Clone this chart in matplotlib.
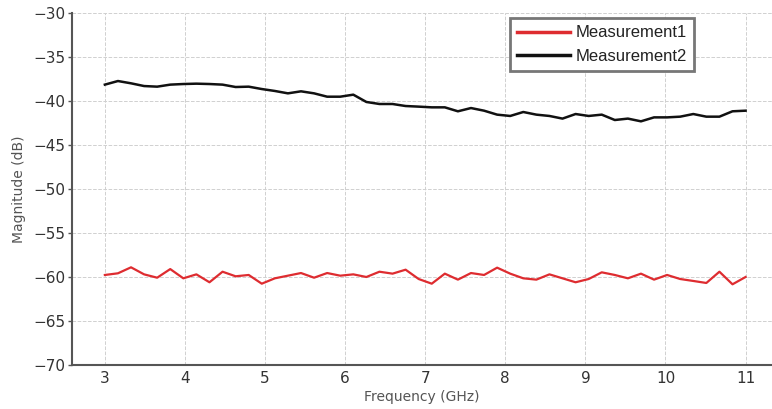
import numpy as np
import matplotlib
matplotlib.use("Agg")
import matplotlib.pyplot as plt

# Frequency sweep, 50 points from 3 to 11 GHz
freq_ghz = np.linspace(3, 11, 50)

measurement1_db = [
    -59.77, -59.58, -58.90, -59.70, -60.08, -59.10, -60.15, -59.70, -60.60, -59.40,
    -59.92, -59.77, -60.76, -60.15, -59.85, -59.55, -60.08, -59.55, -59.85, -59.70,
    -60.00, -59.40, -59.62, -59.17, -60.23, -60.76, -59.62, -60.30, -59.55, -59.77,
    -58.94, -59.62, -60.15, -60.30, -59.70, -60.15, -60.60, -60.23, -59.47, -59.77,
    -60.15, -59.62, -60.30, -59.77, -60.23, -60.45, -60.68, -59.40, -60.83, -60.00,
]

measurement2_db = [
    -38.14, -37.73, -37.99, -38.30, -38.37, -38.14, -38.07, -38.03, -38.07, -38.14,
    -38.41, -38.37, -38.64, -38.86, -39.13, -38.90, -39.13, -39.51, -39.51, -39.28,
    -40.11, -40.34, -40.34, -40.57, -40.64, -40.72, -40.72, -41.17, -40.80, -41.10,
    -41.55, -41.70, -41.25, -41.55, -41.70, -42.00, -41.48, -41.70, -41.55, -42.16,
    -42.00, -42.31, -41.86, -41.86, -41.78, -41.48, -41.78, -41.78, -41.17, -41.10,
]

x_ticks = [3, 4, 5, 6, 7, 8, 9, 10, 11]
y_ticks = [-30, -35, -40, -45, -50, -55, -60, -65, -70]

fig = plt.figure(figsize=(7.72, 4.09), dpi=100)
ax = fig.add_axes([0.0933, 0.1076, 0.9067, 0.8606])

ax.plot(freq_ghz, measurement1_db, color="#de2c30", linewidth=1.6, label="Measurement1")
ax.plot(freq_ghz, measurement2_db, color="#111111", linewidth=1.8, label="Measurement2")

ax.set_xlim(2.59, 11.33)
ax.set_ylim(-70, -30)
ax.set_xticks(x_ticks)
ax.set_yticks(y_ticks)

ax.grid(True, linestyle="--", color="#d0d0d0", linewidth=0.7)
ax.set_axisbelow(True)

for side in ("top", "right"):
    ax.spines[side].set_visible(False)
for side in ("left", "bottom"):
    ax.spines[side].set_color("#555555")
    ax.spines[side].set_linewidth(1.5)

ax.tick_params(axis="y", direction="out", length=3, width=1, color="#555555",
               labelsize=11, labelcolor="#333333", pad=2)
ax.tick_params(axis="x", length=0, labelsize=11, labelcolor="#333333", pad=4)

ax.set_xlabel("Frequency (GHz)", fontsize=10, color="#555555", labelpad=3)
ax.set_ylabel("Magnitude (dB)", fontsize=10, color="#555555", labelpad=5)

leg = ax.legend(loc="upper right", bbox_to_anchor=(0.889, 0.986), borderaxespad=0,
                fancybox=False, framealpha=1, edgecolor="#777777",
                prop={"family": "Liberation Sans", "size": 12},
                handlelength=3.2, handletextpad=0.3, labelspacing=0.5,
                borderpad=0.45)
leg.get_frame().set_linewidth(2)
for line in leg.get_lines():
    line.set_linewidth(2.5)
for text in leg.get_texts():
    text.set_color("#222222")

fig.savefig("out.png", dpi=100)
